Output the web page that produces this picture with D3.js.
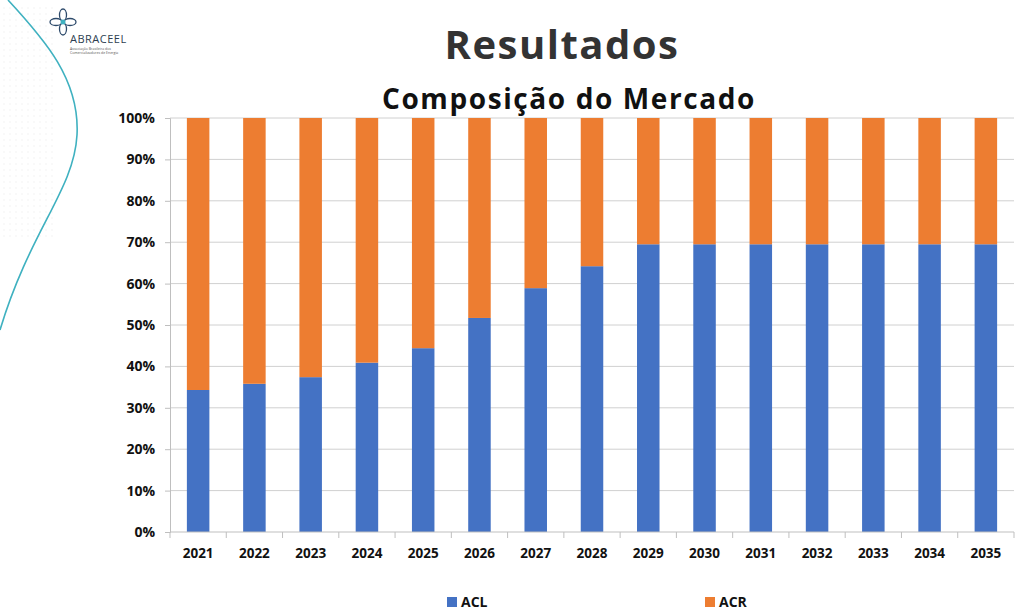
<!DOCTYPE html>
<html><head><meta charset="utf-8">
<script src="https://cdn.jsdelivr.net/npm/d3@7"></script>
<style>body{margin:0;background:#fff;}svg{display:block;}</style>
</head><body>
<svg id="c" width="1024" height="613"></svg>
<script>
const years = ["2021","2022","2023","2024","2025","2026","2027","2028","2029","2030","2031","2032","2033","2034","2035"];
const acl = [34.3,35.8,37.4,40.9,44.4,51.7,58.9,64.2,69.5,69.5,69.5,69.5,69.5,69.5,69.5];
const acr = [65.7,64.2,62.6,59.1,55.6,48.3,41.1,35.8,30.5,30.5,30.5,30.5,30.5,30.5,30.5];
const yTicks = [0,10,20,30,40,50,60,70,80,90,100];
const seriesNames = ["ACL","ACR"];
const colors = ["#4472C4","#ED7D31"];

const svg = d3.select("#c");
// decoration
const dots = svg.append("g");
for (let yy=8; yy<240; yy+=6) for (let xx=4; xx<55; xx+=6) dots.append("circle").attr("cx",xx).attr("cy",yy).attr("r",0.7).attr("fill","#eeeeee");
svg.append("path").attr("d","M8,0 C45,40 80,80 77,135 C74,190 30,230 0,330").attr("fill","none").attr("stroke","#3fb1c0").attr("stroke-width",1.6);
const logo = svg.append("g").attr("transform","translate(63,22)");
[[0,-7],[7,0],[0,7],[-7,0]].forEach(p=>logo.append("ellipse").attr("cx",p[0]).attr("cy",p[1]).attr("rx",p[0]?6:3.5).attr("ry",p[0]?3.5:6).attr("fill","none").attr("stroke","#2d4a6b").attr("stroke-width",1.3));
logo.append("circle").attr("r",2.5).attr("fill","#3fb1c0");
svg.append("text").attr("x",70).attr("y",43).text("ABRACEEL").attr("font-family","Open Sans, sans-serif").attr("font-size",11).attr("fill","#2d3e50").attr("letter-spacing",0.5);
svg.append("text").attr("x",70).attr("y",50).text("Associação Brasileira dos").attr("font-family","Open Sans, sans-serif").attr("font-size",3.5).attr("fill","#555");
svg.append("text").attr("x",70).attr("y",54).text("Comercializadores de Energia").attr("font-family","Open Sans, sans-serif").attr("font-size",3.5).attr("fill","#555");

svg.append("text").attr("x",562).attr("y",59).attr("text-anchor","middle").text("Resultados")
  .attr("font-family","Open Sans, sans-serif").attr("font-weight","bold").attr("font-size",40).attr("letter-spacing",1.5).attr("fill","#333");
svg.append("text").attr("x",569).attr("y",109).attr("text-anchor","middle").text("Composição do Mercado")
  .attr("font-family","Open Sans, sans-serif").attr("font-weight","bold").attr("font-size",28).attr("letter-spacing",1.6).attr("fill","#111");

const m = {l:170, r:1014, t:118, b:532};
const x = d3.scaleBand().domain(years).range([m.l,m.r]).paddingInner(0.6).paddingOuter(0.3);
const y = d3.scaleLinear().domain([0,100]).range([m.b,m.t]);

// grid
svg.append("g").selectAll("line").data(yTicks.filter(d=>d>0)).join("line")
  .attr("x1",m.l).attr("x2",m.r).attr("y1",d=>y(d)).attr("y2",d=>y(d)).attr("stroke","#d0d0d0").attr("stroke-width",1);

const stackData = years.map((yr,i)=>({year:yr, ACL:acl[i], ACR:acr[i]}));
const stack = d3.stack().keys(seriesNames)(stackData);
svg.append("g").selectAll("g").data(stack).join("g").attr("fill",(d,i)=>colors[i])
  .selectAll("rect").data(d=>d).join("rect")
  .attr("x",d=>x(d.data.year)).attr("width",x.bandwidth())
  .attr("y",d=>y(d[1])).attr("height",d=>y(d[0])-y(d[1]));

// y axis
const ya = svg.append("g").attr("transform",`translate(${m.l},0)`)
  .call(d3.axisLeft(y).tickValues(yTicks).tickFormat(d=>d+"%").tickSize(5).tickPadding(10));
ya.select(".domain").attr("stroke","#bfbfbf");
ya.selectAll(".tick line").attr("stroke","#bfbfbf");
ya.selectAll("text").attr("font-family","Open Sans, sans-serif").attr("font-weight","bold").attr("font-size",14).attr("fill","#111");

// x axis
const xa = svg.append("g").attr("transform",`translate(0,${m.b})`)
  .call(d3.axisBottom(x).tickSize(0).tickPadding(16));
xa.select(".domain").attr("stroke","#bfbfbf").attr("d",`M${m.l},0H${m.r}`);
xa.selectAll("text").attr("font-family","Open Sans, sans-serif").attr("font-weight","bold").attr("font-size",13.5).attr("fill","#111");
svg.append("g").selectAll("line").data(d3.range(years.length+1)).join("line")
  .attr("x1",i=>m.l+i*(m.r-m.l)/years.length).attr("x2",i=>m.l+i*(m.r-m.l)/years.length)
  .attr("y1",m.b).attr("y2",m.b+6).attr("stroke","#bfbfbf");

// legend
const legX = [447,705];
const leg = svg.append("g").selectAll("g").data(seriesNames).join("g").attr("transform",(d,i)=>`translate(${legX[i]},597)`);
leg.append("rect").attr("width",10).attr("height",10).attr("fill",(d,i)=>colors[i]);
leg.append("text").attr("x",14).attr("y",10).text(d=>d).attr("font-family","Open Sans, sans-serif").attr("font-weight","bold").attr("font-size",14).attr("fill","#111");
</script>
</body></html>
